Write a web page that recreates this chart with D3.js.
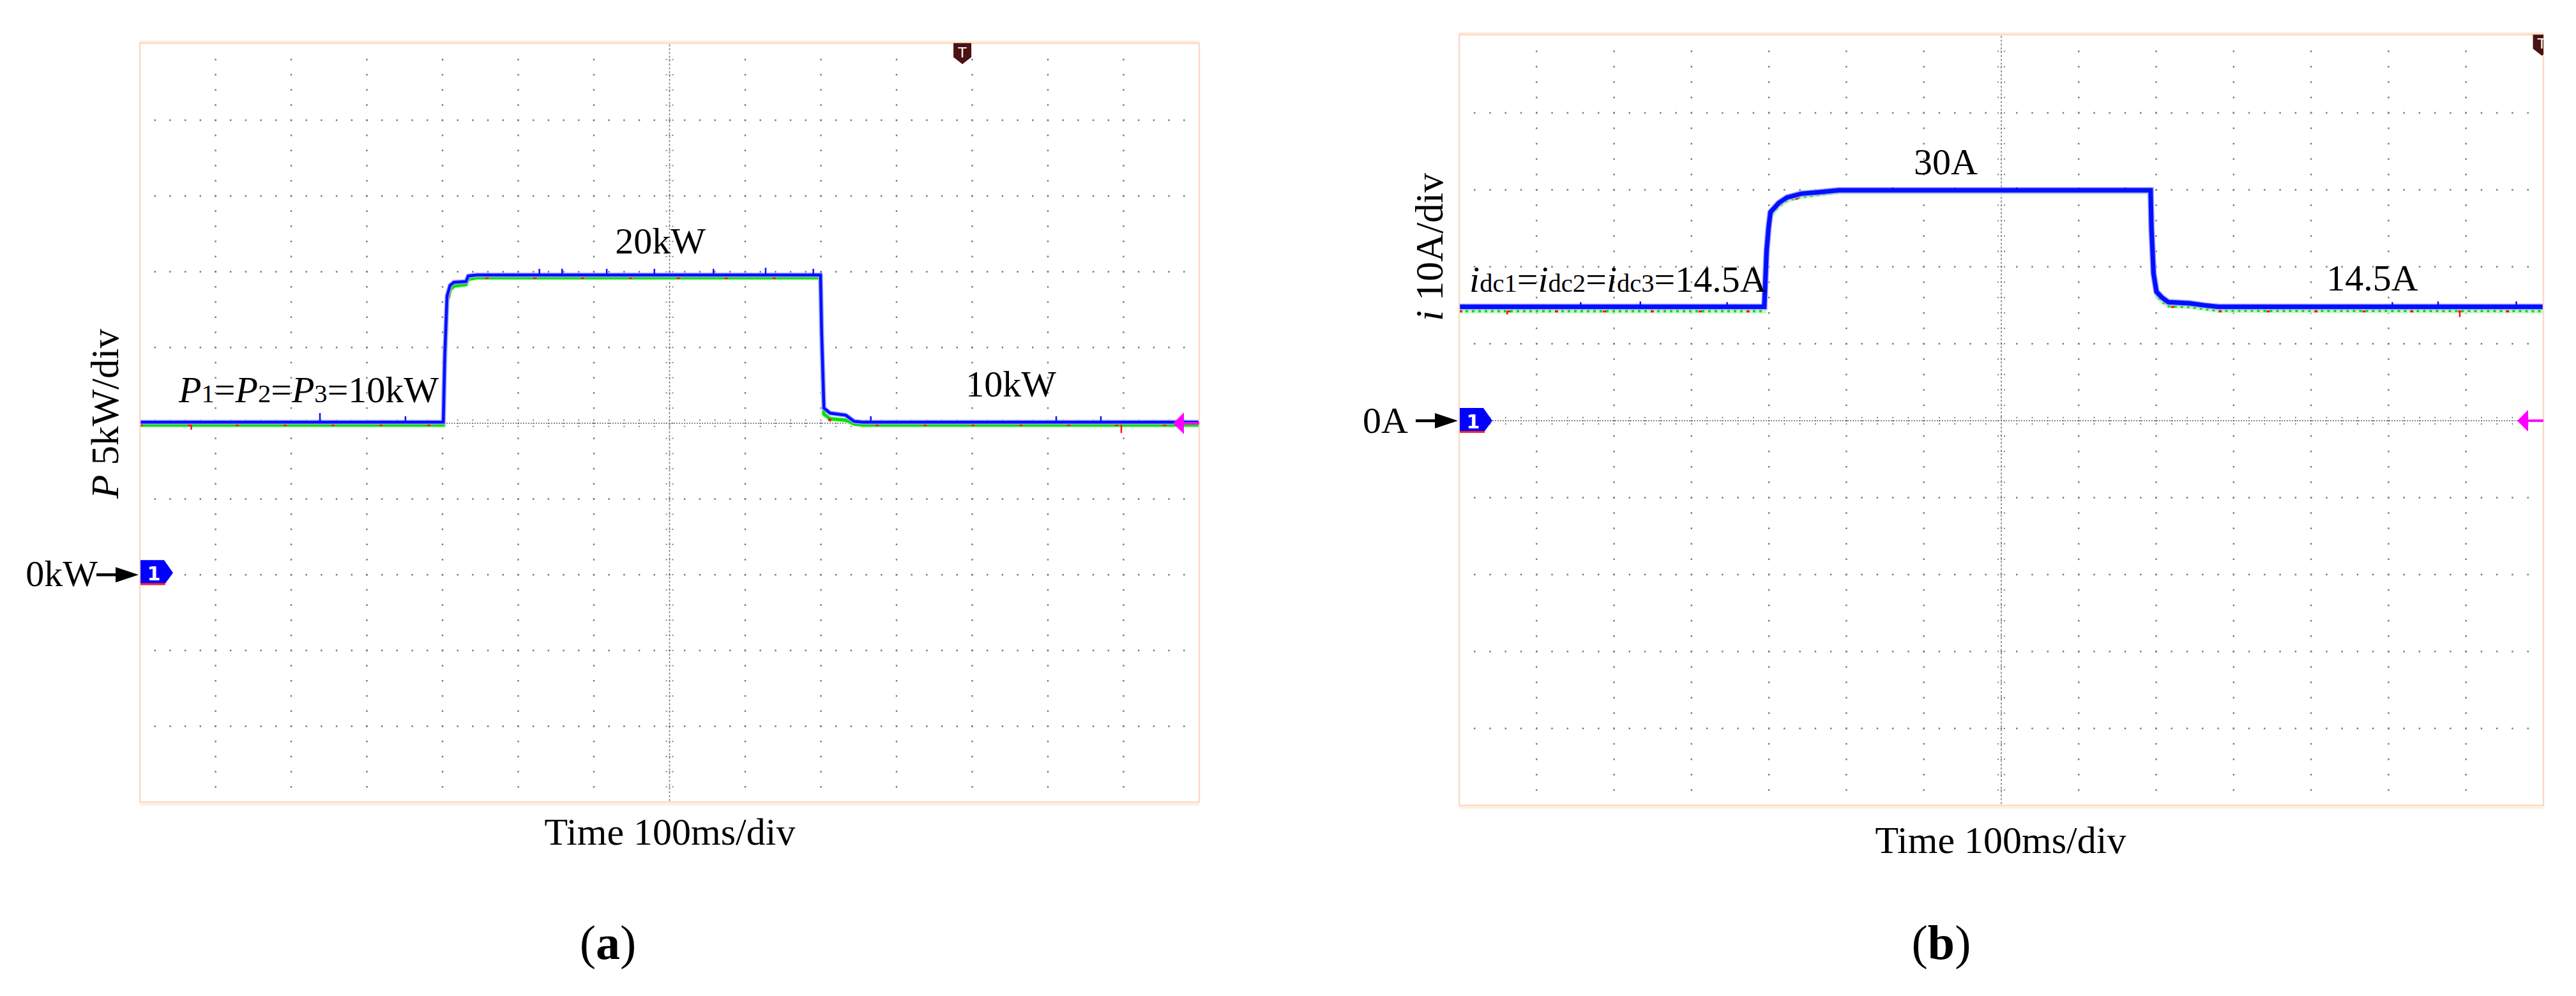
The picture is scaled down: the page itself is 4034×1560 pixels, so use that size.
<!DOCTYPE html>
<html><head><meta charset="utf-8">
<script src="https://cdn.jsdelivr.net/npm/d3@7"></script>
<style>html,body{margin:0;padding:0;background:#fff;}svg{display:block;}</style>
</head><body>
<script>
// ---------------- DATA ----------------
// Panel (a): power of three units, kW, time in ms (100 ms/div, 14 div)
const aTime  = [0, 401, 403, 406, 410, 415, 431, 434, 445, 899.5, 901, 904, 912, 933, 944, 955, 1400];
const aBlue  = [10.07, 10.07, 14.5, 18.4, 19.1, 19.3, 19.35, 19.72, 19.78, 19.78, 16.0, 11.0, 10.67, 10.53, 10.12, 10.07, 10.07];
const aGreen = [9.88, 9.88, 14.0, 18.0, 18.8, 19.05, 19.15, 19.5, 19.6, 19.6, 15.5, 10.6, 10.3, 10.2, 9.95, 9.88, 9.88];
const aRed   = [9.9, 9.9, 13.8, 17.9, 18.7, 19.0, 19.1, 19.5, 19.6, 19.6, 15.3, 10.5, 10.2, 10.0, 9.9, 9.9, 9.9];
const aBlueSpikeT   = [238, 351, 528, 558, 617, 680, 758, 827, 890, 966, 1211, 1270];
const aBlueSpikeV   = [10.67, 10.46, 20.19, 20.2, 20.19, 20.19, 20.19, 20.26, 20.19, 10.46, 10.46, 10.46];
const aBlueSpikeB   = [10.07, 10.07, 19.78, 19.78, 19.78, 19.78, 19.78, 19.78, 19.78, 10.07, 10.07, 10.07];
const aRedSpikeT = [68, 1297];
const aRedSpikeV = [9.57, 9.35];
const aRedSpikeB = [9.9, 9.9];
const aTrigger = 1087;     // ms, trigger position marker "T"
const aZero = 0;           // kW, channel-1 ground level
const aLevel = 10;         // kW, trigger level (magenta arrow)

// Panel (b): dc currents, A
const bTime  = [0, 394, 397, 399.5, 402, 412.7, 423.2, 441.6, 465.3, 490, 892.8, 893.9, 896.6, 900.4, 907.5, 915.7, 942.8, 964.6, 980, 1400];
const bBlue  = [14.8, 14.8, 22.1, 25.05, 27.1, 28.3, 29.0, 29.5, 29.7, 29.95, 29.95, 25.05, 19.1, 16.75, 16.0, 15.4, 15.26, 14.96, 14.8, 14.8];
const bGreen = [14.25, 14.25, 21.5, 24.5, 26.6, 27.9, 28.6, 29.1, 29.4, 29.7, 29.7, 24.5, 18.6, 16.3, 15.5, 14.9, 14.8, 14.5, 14.3, 14.25];
const bRed   = [14.2, 14.2, 21.3, 24.3, 26.4, 27.7, 28.5, 29.0, 29.35, 29.65, 29.65, 24.3, 18.4, 16.1, 15.3, 14.8, 14.7, 14.4, 14.2, 14.2];
const bBlueSpikeT = [157, 234, 346, 560, 640, 720, 800, 860, 1205, 1264, 1365];
const bBlueSpikeV = [15.4, 15.5, 15.4, 30.3, 30.25, 30.3, 30.25, 30.3, 15.4, 15.5, 15.5];
const bBlueSpikeB = [14.8, 14.8, 14.8, 29.95, 29.95, 29.95, 29.95, 29.95, 14.8, 14.8, 14.8];
const bRedSpikeT = [62, 1292];
const bRedSpikeV = [13.8, 13.46];
const bRedSpikeB = [14.2, 14.2];
const bTrigger = 1398;
const bZero = 0;
const bLevel = 0;

// Labels
const aLabels = {y: ["P", " 5kW/div"], x: "Time 100ms/div", zero: "0kW", cap: "a"};
const bLabels = {y: ["i", " 10A/div"], x: "Time 100ms/div", zero: "0A", cap: "b"};

// ---------------- DRAW ----------------
const W = 4034, H = 1560;
const FONT = "'Liberation Serif','Times New Roman',serif";
const svg = d3.select("body").append("svg").attr("width", W).attr("height", H)
  .attr("font-family", FONT);
svg.append("rect").attr("width", W).attr("height", H).attr("fill", "#fff");

const xA = d3.scaleLinear().domain([0, 1400]).range([219, 1878]);
const yA = d3.scaleLinear().domain([-15, 35]).range([1256.2, 69.6]);
const xB = d3.scaleLinear().domain([0, 1400]).range([2285, 3983]);
const yB = d3.scaleLinear().domain([-50, 50]).range([1261.5, 56.3]);

function drawGrid(g, x, y, xStep, yStep, xCenter, yCenter) {
  const [x0, x1] = x.domain(), [y0, y1] = y.domain();
  const xMinor = d3.range(x0 + xStep / 5, x1 - 1e-6, xStep / 5);
  const yMinor = d3.range(y0 + yStep / 5, y1 - 1e-6, yStep / 5);
  const xMajor = d3.range(x0 + xStep, x1 - 1e-6, xStep).filter(v => Math.abs(v - xCenter) > 1e-6);
  const yMajor = d3.range(y0 + yStep, y1 - 1e-6, yStep).filter(v => Math.abs(v - yCenter) > 1e-6);
  const dotC = "#7a7a7a";
  xMajor.forEach(xm => yMinor.forEach(ym => {
    g.append("rect").attr("x", x(xm) - 1.2).attr("y", y(ym) - 1.3).attr("width", 2.4).attr("height", 2.6).attr("fill", dotC);
  }));
  yMajor.forEach(ym => xMinor.forEach(xm => {
    g.append("rect").attr("x", x(xm) - 1.2).attr("y", y(ym) - 1.3).attr("width", 2.4).attr("height", 2.6).attr("fill", dotC);
  }));
  // centre vertical: dashed line with small ticks
  g.append("line").attr("x1", x(xCenter)).attr("x2", x(xCenter))
    .attr("y1", y.range()[1]).attr("y2", y.range()[0])
    .attr("stroke", dotC).attr("stroke-width", 1.6).attr("stroke-dasharray", "3 3");
  yMinor.forEach(ym => g.append("line").attr("x1", x(xCenter) - 6).attr("x2", x(xCenter) + 6)
    .attr("y1", y(ym)).attr("y2", y(ym)).attr("stroke", dotC).attr("stroke-width", 1.8).attr("stroke-dasharray", "2 3"));
  // centre horizontal: dense dotted line with small ticks
  g.append("line").attr("x1", x.range()[0]).attr("x2", x.range()[1])
    .attr("y1", y(yCenter)).attr("y2", y(yCenter))
    .attr("stroke", dotC).attr("stroke-width", 1.6).attr("stroke-dasharray", "2 2");
  xMinor.forEach(xm => g.append("line").attr("x1", x(xm)).attr("x2", x(xm))
    .attr("y1", y(yCenter) - 6).attr("y2", y(yCenter) + 6).attr("stroke", dotC).attr("stroke-width", 1.8).attr("stroke-dasharray", "2 3"));
}

function drawFrame(g, x, y) {
  const [l, r] = x.range(), [b, t] = y.range();
  g.append("line").attr("x1", l).attr("x2", r).attr("y1", t - 4.5).attr("y2", t - 4.5).attr("stroke", "#fdf0da").attr("stroke-width", 3);
  g.append("line").attr("x1", l).attr("x2", r).attr("y1", b + 3.5).attr("y2", b + 3.5).attr("stroke", "#fdf0da").attr("stroke-width", 3.5);
  g.append("rect").attr("x", l).attr("y", t - 2).attr("width", r - l).attr("height", b - t + 2)
    .attr("fill", "none").attr("stroke", "#fcd9c6").attr("stroke-width", 2.5);
}

function drawTraces(g, x, y, time, red, green, blue, bw, gw, greenDash, spikes) {
  const mk = vals => d3.line().x((d, i) => x(time[i])).y(d => y(d))(vals);
  const clipId = "clip" + Math.round(x.range()[0]);
  g.append("clipPath").attr("id", clipId).append("rect")
    .attr("x", x.range()[0]).attr("y", y.range()[1]).attr("width", x.range()[1] - x.range()[0]).attr("height", y.range()[0] - y.range()[1]);
  const tg = g.append("g").attr("clip-path", `url(#${clipId})`);
  tg.append("path").attr("d", mk(green)).attr("fill", "none").attr("stroke", "#c8f5c8").attr("stroke-width", gw + 3);
  tg.append("path").attr("d", mk(green)).attr("fill", "none").attr("stroke", "#00e000").attr("stroke-width", gw)
    .attr("stroke-dasharray", greenDash);
  tg.append("path").attr("d", mk(red)).attr("fill", "none").attr("stroke", "#ff1010").attr("stroke-width", gw - 1)
    .attr("stroke-dasharray", "5 70");
  tg.append("path").attr("d", mk(blue)).attr("fill", "none").attr("stroke", "#a8a8ff").attr("stroke-width", bw + 3);
  tg.append("path").attr("d", mk(blue)).attr("fill", "none").attr("stroke", "#0010ff").attr("stroke-width", bw);
  spikes.forEach(s => s.t.forEach((t, i) => {
    tg.append("line").attr("x1", x(t)).attr("x2", x(t)).attr("y1", y(s.b[i])).attr("y2", y(s.v[i]))
      .attr("stroke", s.c).attr("stroke-width", 2.5);
  }));
}

function drawMarkers(g, x, y, zero, level, trig, zoff) {
  const l = x.range()[0], r = x.range()[1], t = y.range()[1];
  const y0 = y(zero);
  // channel 1 marker
  g.append("path").attr("d", `M${l + 1},${y0 - 21 + zoff} L${l + 38},${y0 - 21 + zoff} L${l + 52},${y0 - 1 + zoff} L${l + 38},${y0 + 18 + zoff} L${l + 1},${y0 + 18 + zoff} Z`)
    .attr("fill", "#0000ff");
  g.append("line").attr("x1", l + 1).attr("x2", l + 40).attr("y1", y0 + 16.5 + zoff).attr("y2", y0 + 16.5 + zoff)
    .attr("stroke", "#ff2020").attr("stroke-width", 3);
  g.append("text").attr("x", l + 22).attr("y", y0 + 11 + zoff).attr("text-anchor", "middle")
    .attr("font-family", "'DejaVu Sans',sans-serif").attr("font-weight", "bold").attr("font-size", 30)
    .attr("fill", "#fff").text("1");
  // arrow pointing at the marker
  g.append("line").attr("x1", l - 68).attr("x2", l - 34).attr("y1", y0).attr("y2", y0)
    .attr("stroke", "#000").attr("stroke-width", 4.5);
  g.append("path").attr("d", `M${l - 38},${y0 - 12} L${l - 2},${y0} L${l - 38},${y0 + 12} Z`).attr("fill", "#000");
  // trigger level (magenta)
  const yl = y(level);
  g.append("path").attr("d", `M${r - 41},${yl} L${r - 24},${yl - 17} L${r - 24},${yl + 17} Z`).attr("fill", "#ff00ff");
  g.append("line").attr("x1", r - 26).attr("x2", r).attr("y1", yl).attr("y2", yl).attr("stroke", "#ff00ff").attr("stroke-width", 4);
  // trigger position "T"
  const clipId = "tclip" + Math.round(l);
  g.append("clipPath").attr("id", clipId).append("rect").attr("x", l).attr("y", 0).attr("width", r - l).attr("height", 2000);
  const tg = g.append("g").attr("clip-path", `url(#${clipId})`);
  const xt = x(trig);
  tg.append("path").attr("d", `M${xt - 14},${t - 2} L${xt + 14},${t - 2} L${xt + 14},${t + 20} L${xt},${t + 31} L${xt - 14},${t + 20} Z`)
    .attr("fill", "#4a1212");
  tg.append("text").attr("x", xt).attr("y", t + 20).attr("text-anchor", "middle")
    .attr("font-family", "'DejaVu Sans',sans-serif").attr("font-size", 22).attr("fill", "#fff").text("T");
}

function subLabel(g, x, yb, parts, fs, anchor) {
  const t = g.append("text").attr("x", x).attr("y", yb).attr("font-size", fs).attr("fill", "#000")
    .attr("text-anchor", anchor || "start");
  parts.forEach(p => {
    const s = t.append("tspan").text(p.s);
    if (p.it) s.attr("font-style", "italic");
    if (p.sub) s.attr("font-size", fs * 0.7);
  });
  return t;
}

// -------- Panel (a) --------
const ga = svg.append("g");
drawGrid(ga, xA, yA, 100, 5, 700, 10);
drawTraces(ga, xA, yA, aTime, aRed, aGreen, aBlue, 4.5, 5, null, [
  {t: aBlueSpikeT, v: aBlueSpikeV, b: aBlueSpikeB, c: "#0010ff"},
  {t: aRedSpikeT, v: aRedSpikeV, b: aRedSpikeB, c: "#ff1010"}]);
drawFrame(ga, xA, yA);
drawMarkers(ga, xA, yA, aZero, aLevel, aTrigger, -2);

ga.append("text").attr("x", xA.range()[0] - 66).attr("y", yA(aZero) + 18).attr("text-anchor", "end")
  .attr("font-size", 58).text(aLabels.zero);
subLabel(ga, 280, 630, [{s: "P", it: 1}, {s: "1", sub: 1}, {s: "="}, {s: "P", it: 1}, {s: "2", sub: 1}, {s: "="},
  {s: "P", it: 1}, {s: "3", sub: 1}, {s: "=10kW"}], 58);
ga.append("text").attr("x", 1034).attr("y", 397).attr("text-anchor", "middle").attr("font-size", 58).text("20kW");
ga.append("text").attr("x", 1583).attr("y", 621).attr("text-anchor", "middle").attr("font-size", 58).text("10kW");
const yla = ga.append("text").attr("transform", "translate(185,648) rotate(-90)").attr("text-anchor", "middle").attr("font-size", 61);
yla.append("tspan").attr("font-style", "italic").text(aLabels.y[0]);
yla.append("tspan").text(aLabels.y[1]);
ga.append("text").attr("x", 1049).attr("y", 1323).attr("text-anchor", "middle").attr("font-size", 60).text(aLabels.x);
const capA = ga.append("text").attr("x", 952).attr("y", 1502).attr("text-anchor", "middle").attr("font-size", 76);
capA.append("tspan").text("(");
capA.append("tspan").attr("font-weight", "bold").text(aLabels.cap);
capA.append("tspan").text(")");

// -------- Panel (b) --------
const gb = svg.append("g");
drawGrid(gb, xB, yB, 100, 10, 700, 0);
drawTraces(gb, xB, yB, bTime, bRed, bGreen, bBlue, 7, 4, "4 6", [
  {t: bBlueSpikeT, v: bBlueSpikeV, b: bBlueSpikeB, c: "#0010ff"},
  {t: bRedSpikeT, v: bRedSpikeV, b: bRedSpikeB, c: "#ff1010"}]);
drawFrame(gb, xB, yB);
drawMarkers(gb, xB, yB, bZero, bLevel, bTrigger, 1);

gb.append("text").attr("x", xB.range()[0] - 80).attr("y", yB(bZero) + 19).attr("text-anchor", "end")
  .attr("font-size", 58).text(bLabels.zero);
subLabel(gb, 2301, 457, [{s: "i", it: 1}, {s: "dc1", sub: 1}, {s: "="}, {s: "i", it: 1}, {s: "dc2", sub: 1}, {s: "="},
  {s: "i", it: 1}, {s: "dc3", sub: 1}, {s: "=14.5A"}], 58);
gb.append("text").attr("x", 3047).attr("y", 273).attr("text-anchor", "middle").attr("font-size", 58).text("30A");
gb.append("text").attr("x", 3715).attr("y", 455).attr("text-anchor", "middle").attr("font-size", 58).text("14.5A");
const ylb = gb.append("text").attr("transform", "translate(2259,387) rotate(-90)").attr("text-anchor", "middle").attr("font-size", 61);
ylb.append("tspan").attr("font-style", "italic").text(bLabels.y[0]);
ylb.append("tspan").text(bLabels.y[1]);
gb.append("text").attr("x", 3133).attr("y", 1336).attr("text-anchor", "middle").attr("font-size", 60).text(bLabels.x);
const capB = gb.append("text").attr("x", 3040).attr("y", 1502).attr("text-anchor", "middle").attr("font-size", 76);
capB.append("tspan").text("(");
capB.append("tspan").attr("font-weight", "bold").text(bLabels.cap);
capB.append("tspan").text(")");
</script>
</body></html>
